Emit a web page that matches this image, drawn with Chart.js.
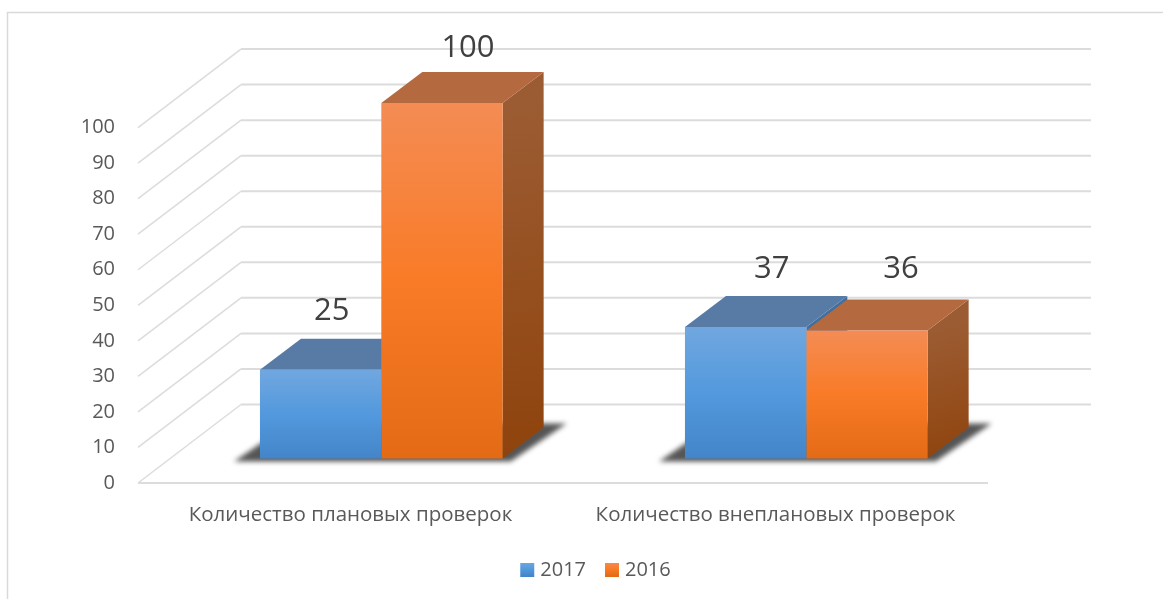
<!DOCTYPE html>
<html>
<head>
<meta charset="utf-8">
<style>html,body{margin:0;padding:0;background:#fff}canvas{display:block}</style>
<script src="https://cdn.jsdelivr.net/npm/chart.js@4/dist/chart.umd.min.js"></script>
</head>
<body>
<canvas id="c" width="1163" height="599"></canvas>
<script>
const categories = ['Количество плановых проверок', 'Количество внеплановых проверок'];
const seriesNames = ['2017', '2016'];
const values2017 = [25, 37];
const values2016 = [100, 36];
const tickValues = [0, 10, 20, 30, 40, 50, 60, 70, 80, 90, 100];

// picture geometry (3-D projection of the flat Chart.js bars)
const WALL = {dx: 103, dy: -78.5};
const BAR_SHIFT = {dx: 30.8, dy: -24.5};
const DEPTH = {dx: 41, dy: -31};
const LABEL_OFFSET = [[[11, -58], [26, -55]], [[26, -58], [34, -61]]];

const PAL = [
  {stops: ['#71a7e0', '#5399dd', '#4485c9'], top: '#587ba6', side: ['#41709f', '#3a6594']},
  {stops: ['#f48c54', '#f97b27', '#e46b16'], top: '#b5693f', side: ['#9c5c33', '#8f430c']}
];
const canvas = document.getElementById('c');
const c2d = canvas.getContext('2d');

function vGrad(ctx, y0, y1, stops) {
  const g = ctx.createLinearGradient(0, y0, 0, y1);
  stops.forEach((s, i) => g.addColorStop(i / (stops.length - 1), s));
  return g;
}
function barFill(i) {
  return (ctx) => {
    if (ctx.type !== 'data') return PAL[i].stops[1];
    const y = ctx.chart.scales.y;
    return vGrad(c2d, y.getPixelForValue(ctx.parsed.y), y.getPixelForValue(0), PAL[i].stops);
  };
}
function poly(ctx, pts, fill) {
  ctx.beginPath();
  pts.forEach((p, i) => i ? ctx.lineTo(p[0], p[1]) : ctx.moveTo(p[0], p[1]));
  ctx.closePath();
  ctx.fillStyle = fill;
  ctx.fill();
}

const scene = {
  id: 'scene',
  afterLayout(chart) {
    const l = chart.legend;
    l.left = 299; l.right = 896; l.top = 537;
  },
  beforeDraw(chart) {
    const ctx = chart.ctx;
    ctx.save();
    ctx.fillStyle = '#fff';
    ctx.fillRect(0, 0, chart.width, chart.height);
    ctx.strokeStyle = '#d9d9d9';
    ctx.lineWidth = 1.5;
    ctx.beginPath();
    ctx.moveTo(7.5, chart.height);
    ctx.lineTo(7.5, 12.5);
    ctx.lineTo(chart.width, 12.5);
    ctx.stroke();
    ctx.restore();
  },
  beforeDatasetsDraw(chart) {
    const ctx = chart.ctx, y = chart.scales.y, x = chart.scales.x;
    ctx.save();
    // back wall and left wall gridlines
    ctx.strokeStyle = '#dcdcdc';
    tickValues.forEach(v => {
      const py = y.getPixelForValue(v);
      ctx.lineWidth = 1.5;
      ctx.beginPath();
      ctx.moveTo(x.left, py);
      ctx.lineTo(x.left + WALL.dx, py + WALL.dy);
      ctx.stroke();
      ctx.lineWidth = 2;
      ctx.beginPath();
      ctx.moveTo(x.left + WALL.dx, py + WALL.dy);
      ctx.lineTo(x.right + WALL.dx, py + WALL.dy);
      ctx.stroke();
    });
    ctx.lineWidth = 2;
    ctx.beginPath();
    const p0 = y.getPixelForValue(0);
    ctx.moveTo(x.left, p0);
    ctx.lineTo(x.right, p0);
    ctx.stroke();
    ctx.restore();

    // floor shadows
    const m0 = chart.getDatasetMeta(0).data, m1 = chart.getDatasetMeta(1).data;
    const base = p0 + BAR_SHIFT.dy;
    categories.forEach((_, i) => {
      const L = m0[i].x - m0[i].width / 2 + BAR_SHIFT.dx;
      const R = m1[i].x + m1[i].width / 2 + BAR_SHIFT.dx;
      ctx.save();
      ctx.filter = 'blur(2.5px)';
      poly(ctx, [[L - 26, base + 3], [R + 8, base + 3], [R + 64, base - 35], [L + 30, base - 35]], '#555555');
      ctx.restore();
    });

    // everything the bars draw is shifted into the middle of the floor depth
    ctx.save();
    ctx.translate(BAR_SHIFT.dx, BAR_SHIFT.dy);
    // depth faces: 2017 first, then 2016 covers it
    chart.data.datasets.forEach((ds, i) => {
      const pal = PAL[i];
      chart.getDatasetMeta(i).data.forEach(el => {
        const l = el.x - el.width / 2, r = el.x + el.width / 2, t = el.y, b = el.base;
        const g = ctx.createLinearGradient(r, t, r + DEPTH.dx, b);
        g.addColorStop(0, pal.side[0]);
        g.addColorStop(1, pal.side[1]);
        poly(ctx, [[r, t], [r + DEPTH.dx, t + DEPTH.dy], [r + DEPTH.dx, b + DEPTH.dy], [r, b]], g);
        poly(ctx, [[l, t], [r, t], [r + DEPTH.dx, t + DEPTH.dy], [l + DEPTH.dx, t + DEPTH.dy]], pal.top);
      });
    });
  },
  afterDatasetsDraw(chart) {
    const ctx = chart.ctx;
    ctx.restore();
    ctx.save();
    ctx.font = '31px "Open Sans"';
    ctx.fillStyle = '#404040';
    ctx.textAlign = 'center';
    ctx.textBaseline = 'middle';
    chart.data.datasets.forEach((ds, i) => {
      chart.getDatasetMeta(i).data.forEach((el, j) => {
        const off = LABEL_OFFSET[j][i];
        ctx.fillText(String(ds.data[j]), el.x + BAR_SHIFT.dx + off[0], el.y + BAR_SHIFT.dy + off[1]);
      });
    });
    ctx.restore();
  }
};

function legendLabels(chart) {
  return chart.data.datasets.map((ds, i) => {
    const g = vGrad(chart.ctx, 562, 576, PAL[i].stops);
    return {text: ds.label, fillStyle: g, strokeStyle: g, lineWidth: 8, fontColor: '#595959', hidden: false, datasetIndex: i};
  });
}

new Chart(canvas, {
  type: 'bar',
  data: {
    labels: categories,
    datasets: [
      {label: seriesNames[0], data: values2017, backgroundColor: barFill(0)},
      {label: seriesNames[1], data: values2016, backgroundColor: barFill(1)}
    ]
  },
  plugins: [scene],
  options: {
    responsive: false,
    animation: false,
    events: [],
    layout: {padding: {left: 0, top: 48.5, right: 175, bottom: 0}},
    datasets: {bar: {categoryPercentage: 0.571, barPercentage: 1, clip: false, borderWidth: 0}},
    scales: {
      x: {
        grid: {display: false, drawTicks: false},
        border: {display: false},
        ticks: {color: '#595959', font: {family: '"Open Sans"', size: 20.5}, padding: 20, maxRotation: 0},
        afterFit: s => { s.height = 63; }
      },
      y: {
        min: 0,
        max: 122.25,
        grid: {display: false, drawTicks: false},
        border: {display: false},
        afterBuildTicks: s => { s.ticks = tickValues.map(v => ({value: v})); },
        ticks: {color: '#595959', font: {family: '"Open Sans"', size: 20}, padding: 23},
        afterFit: s => { s.width = 138; }
      }
    },
    plugins: {
      tooltip: {enabled: false},
      title: {display: false},
      legend: {
        position: 'bottom',
        labels: {
          color: '#595959',
          font: {family: '"Open Sans"', size: 20},
          boxWidth: 6,
          boxHeight: 6,
          padding: 23,
          generateLabels: legendLabels
        }
      }
    }
  }
});
</script>
</body>
</html>
